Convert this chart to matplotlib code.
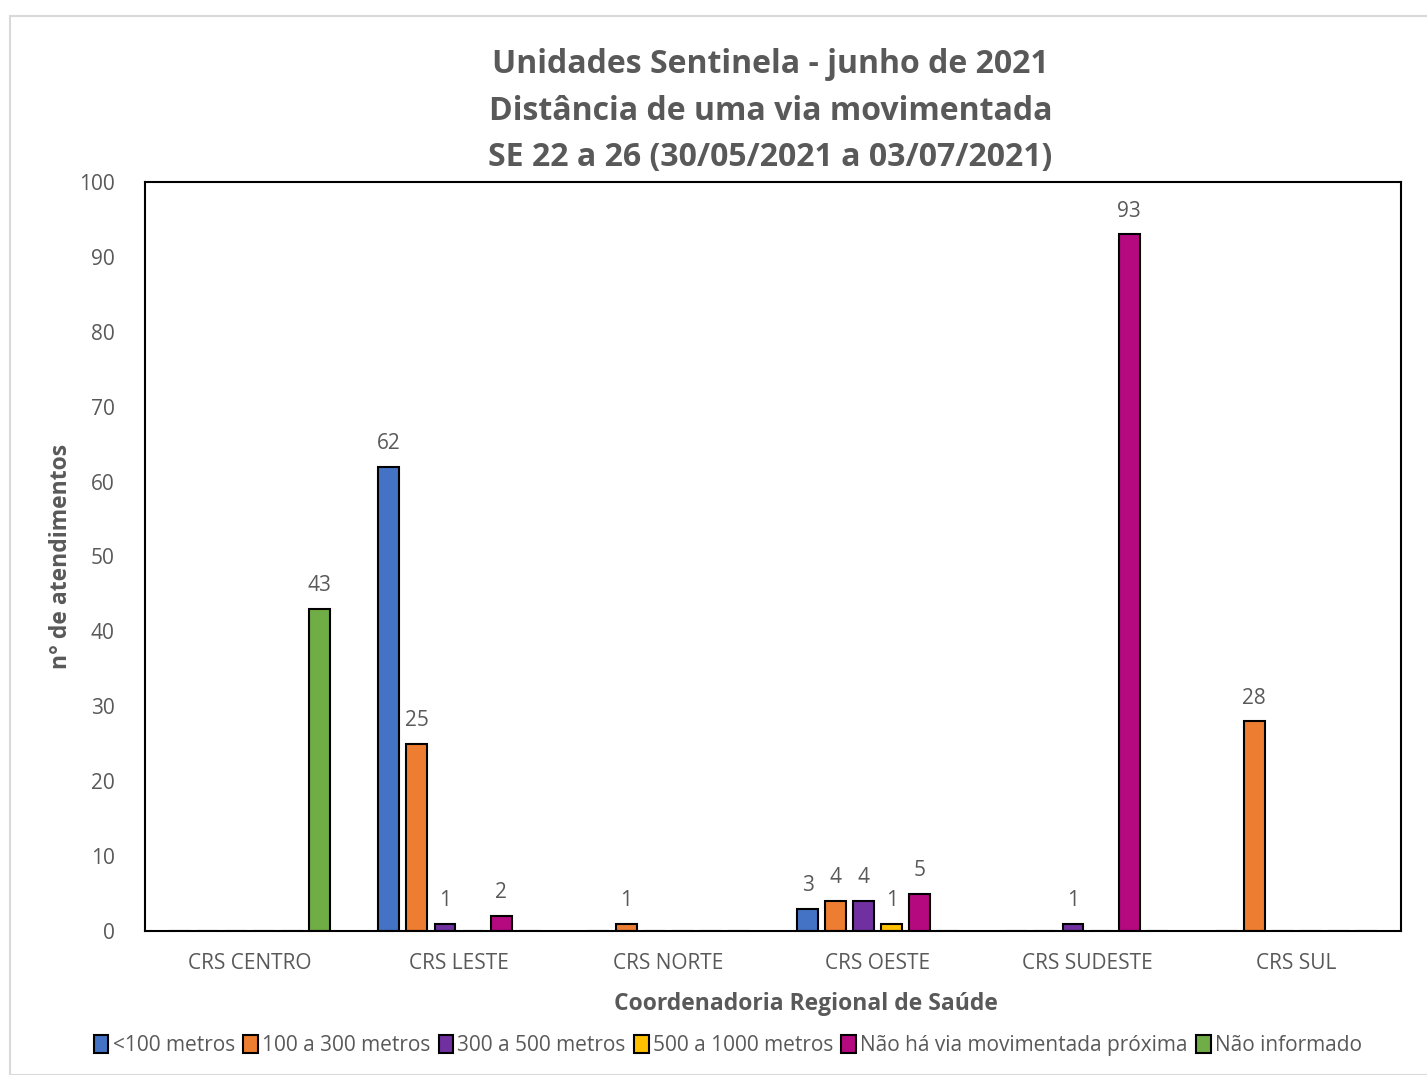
import matplotlib

matplotlib.use("Agg")
import matplotlib.pyplot as plt
import numpy as np
from matplotlib.patches import Rectangle

plt.rcParams["font.family"] = ["Open Sans", "DejaVu Sans"]

categories = ["CRS CENTRO", "CRS LESTE", "CRS NORTE", "CRS OESTE", "CRS SUDESTE", "CRS SUL"]
series_names = [
    "<100 metros",
    "100 a 300 metros",
    "300 a 500 metros",
    "500 a 1000 metros",
    "Não há via movimentada próxima",
    "Não informado",
]
lt100 = [0, 62, 0, 3, 0, 0]
m100_300 = [0, 25, 1, 4, 0, 28]
m300_500 = [0, 1, 0, 4, 1, 0]
m500_1000 = [0, 0, 0, 1, 0, 0]
nao_ha_via = [0, 2, 0, 5, 93, 0]
nao_informado = [43, 0, 0, 0, 0, 0]
series_values = [lt100, m100_300, m300_500, m500_1000, nao_ha_via, nao_informado]
colors = ["#4472C4", "#ED7D31", "#7030A0", "#FFC000", "#B4097F", "#70AD47"]

text_grey = "#595959"

fig = plt.figure(figsize=(14.27, 10.75), dpi=100)
# light outer frame like the exported chart area
fig.patches.append(Rectangle((10 / 1427, 0), 1.0, 1 - 16 / 1075, transform=fig.transFigure,
                             fill=False, edgecolor="#D9D9D9", linewidth=1.5))

ax = fig.add_axes([145 / 1427, 1 - 931 / 1075, (1401 - 145) / 1427, (931 - 182) / 1075])

x = np.arange(len(categories))
step = 0.134
width = 0.1
for i, (name, vals, col) in enumerate(zip(series_names, series_values, colors)):
    pos = x + (i - 2.5) * step
    bars = ax.bar(pos, vals, width, color=col, edgecolor="black", linewidth=1.5, label=name)
    for b, v in zip(bars, vals):
        if v:
            ax.text(b.get_x() + b.get_width() / 2, v + 1.7, str(v), ha="center", va="bottom",
                    fontsize=15, color=text_grey)

ax.set_xlim(-0.5, 5.5)
ax.set_ylim(0, 100)
ax.set_yticks(range(0, 101, 10))
ax.set_xticks(x)
ax.set_xticklabels(categories)
ax.tick_params(axis="both", length=0, labelsize=15, labelcolor=text_grey)
ax.tick_params(axis="x", pad=16)
ax.tick_params(axis="y", pad=22)
for sp in ax.spines.values():
    sp.set_linewidth(1.5)
    sp.set_color("black")

ax.set_xlabel("Coordenadoria Regional de Saúde", fontsize=16.5, fontweight="bold",
              color=text_grey)
ax.xaxis.set_label_coords(0.526, -0.082)
ax.set_ylabel("n° de atendimentos", fontsize=16.5, fontweight="bold", color=text_grey)
ax.yaxis.set_label_coords(-0.057, 0.5)

fig.text(0.54, 1 - 111 / 1075,
         "Unidades Sentinela - junho de 2021\nDistância de uma via movimentada\n"
         "SE 22 a 26 (30/05/2021 a 03/07/2021)",
         ha="center", va="center", fontsize=23, fontweight="bold", color=text_grey,
         linespacing=1.55)

ax.legend(loc="upper center", bbox_to_anchor=(0.464, -0.114), ncol=6, frameon=False,
          fontsize=15, labelcolor=text_grey, handlelength=0.7, handleheight=0.9,
          handletextpad=0.2, columnspacing=0.4)

fig.savefig("out.png", dpi=100)
